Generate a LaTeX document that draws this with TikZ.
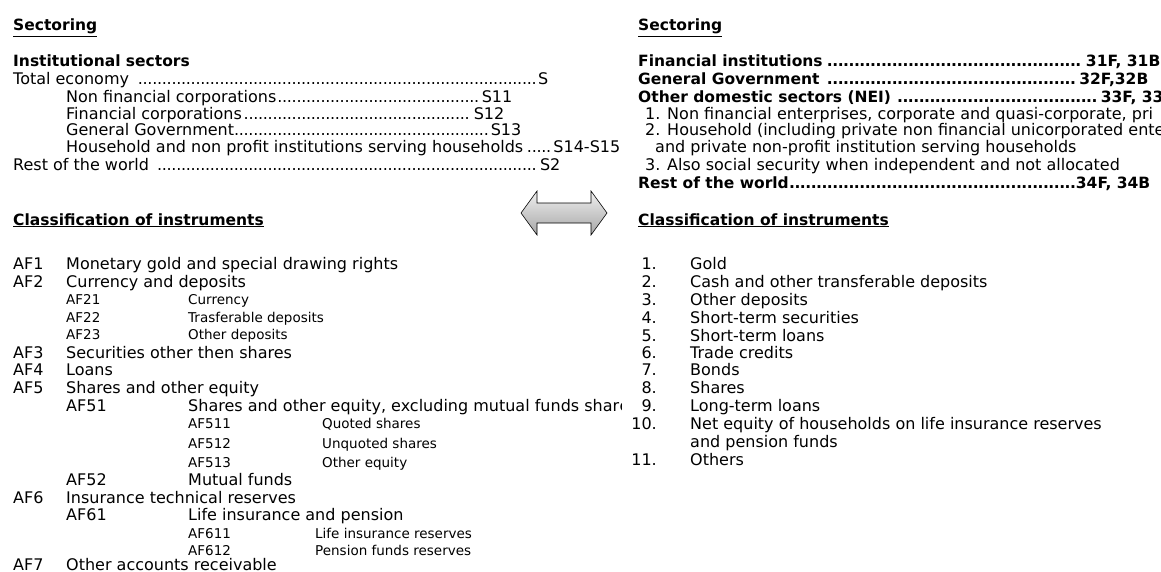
\documentclass[tikz,border=0pt]{standalone}
\usepackage{fontspec}
\setmainfont{DejaVu Sans}
\newcommand\txtA{\fontsize{16}{18}\selectfont}
\newcommand\txtH{\fontsize{15.5}{18}\selectfont\bfseries}
\newcommand\txtB{\fontsize{13.5}{15}\selectfont}
\newcommand\dotsA{\leaders\hbox to 4.8pt{\hss.\hss}\hfill}
\newcommand\dotsB{\leaders\hbox to 5.4pt{\hss.\hss}\hfill}
\tikzset{
  tx/.style={anchor=base west, inner sep=0pt, font=\txtA},
  sm/.style={anchor=base west, inner sep=0pt, font=\txtB},
  hd/.style={anchor=base west, inner sep=0pt, font=\txtH},
  nb/.style={anchor=base east, inner sep=0pt, font=\txtA},
}
\begin{document}
\begin{tikzpicture}[x=1pt,y=-1pt]
\useasboundingbox (0,0) rectangle (1161,572);
% ---------------- left: sectoring
\node[hd] (lsec) at (13,31) {\underline{Sectoring}};
\node[hd] (linst) at (13,67) {Institutional sectors};
\node[tx] (ltot) at (13,85) {\hbox to 535pt{Total economy \dotsA S}};
\node[tx] (lnfc) at (66,103) {\hbox to 446pt{Non financial corporations\dotsA S11}};
\node[tx] (lfc) at (66,120) {\hbox to 438pt{Financial corporations\dotsA S12}};
\node[tx] (lgg) at (66,136) {\hbox to 455pt{General Government\dotsA S13}};
\node[tx] (lhh) at (66,153) {\hbox to 554pt{Household and non profit institutions serving households\dotsA S14-S15}};
\node[tx] (lrw) at (13,171) {\hbox to 547pt{Rest of the world \dotsA S2}};
% ---------------- left: instruments
\node[hd] (lcls) at (13,225) {\underline{Classification of instruments}};
\node[tx] (af1) at (13,269) {AF1};  \node[tx] (af1t) at (66,269) {Monetary gold and special drawing rights};
\node[tx] (af2) at (13,287) {AF2};  \node[tx] (af2t) at (66,287) {Currency and deposits};
\node[sm] (af21) at (66,304) {AF21}; \node[sm] (af21t) at (188,304) {Currency};
\node[sm] (af22) at (66,322) {AF22}; \node[sm] (af22t) at (188,322) {Trasferable deposits};
\node[sm] (af23) at (66,339) {AF23}; \node[sm] (af23t) at (188,339) {Other deposits};
\node[tx] (af3) at (13,358) {AF3};  \node[tx] (af3t) at (66,358) {Securities other then shares};
\node[tx] (af4) at (13,375) {AF4};  \node[tx] (af4t) at (66,375) {Loans};
\node[tx] (af5) at (13,393) {AF5};  \node[tx] (af5t) at (66,393) {Shares and other equity};
\node[tx] (af51) at (66,411) {AF51};
\node[tx] (af51t) at (188,411) {Shares and other equity, excluding mutual funds shar};
\begin{scope}
  \clip (af51t.north east) rectangle ++(2.5,22);
  \node[tx] (af51e) at (af51t.base east) {e};
\end{scope}
\node[sm] (af511) at (188,428) {AF511}; \node[sm] (af511t) at (322,428) {Quoted shares};
\node[sm] (af512) at (188,448) {AF512}; \node[sm] (af512t) at (322,448) {Unquoted shares};
\node[sm] (af513) at (188,467) {AF513}; \node[sm] (af513t) at (322,467) {Other equity};
\node[tx] (af52) at (66,485) {AF52}; \node[tx] (af52t) at (188,485) {Mutual funds};
\node[tx] (af6) at (13,503) {AF6};  \node[tx] (af6t) at (66,503) {Insurance technical reserves};
\node[tx] (af61) at (66,520) {AF61}; \node[tx] (af61t) at (188,520) {Life insurance and pension};
\node[sm] (af611) at (188,538) {AF611}; \node[sm] (af611t) at (315,538) {Life insurance reserves};
\node[sm] (af612) at (188,555) {AF612}; \node[sm] (af612t) at (315,555) {Pension funds reserves};
\node[tx] (af7) at (13,570) {AF7};  \node[tx] (af7t) at (66,570) {Other accounts receivable};
% ---------------- arrow
\shade[draw=black, line width=0.6pt, top color=gray!12, bottom color=gray!70]
  (521,213) -- (537,191) -- (537,203) -- (591,203) -- (591,191) -- (607,213)
  -- (591,235) -- (591,223) -- (537,223) -- (537,235) -- cycle;
% ---------------- right: sectoring
\node[hd] (rsec) at (638,31) {\underline{Sectoring}};
\node[hd] (rfi) at (638,67) {\hbox to 522pt{Financial institutions\dotsB 31F, 31B}};
\node[hd] (rgg) at (638,85) {\hbox to 510pt{General Government \dotsB 32F,32B}};
\node[hd] (rod) at (638,103) {\hbox to 537pt{Other domestic sectors (NEI) \dotsB 33F, 33B}};
\node[tx] (rn1) at (645,120) {1. Non financial enterprises, corporate and quasi-corporate, pri};
\node[tx] (rn2) at (645,136) {2. Household (including private non financial unicorporated ente};
\node[tx] (rn2b) at (655,153) {and private non-profit institution serving households};
\node[tx] (rn3) at (645,171) {3. Also social security when independent and not allocated};
\node[hd] (rrw) at (638,189) {\hbox to 512pt{Rest of the world\dotsB 34F, 34B}};
% ---------------- right: instruments
\node[hd] (rcls) at (638,225) {\underline{Classification of instruments}};
\node[nb] (r1) at (657,269) {1.};  \node[tx] (r1t) at (690,269) {Gold};
\node[nb] (r2) at (657,287) {2.};  \node[tx] (r2t) at (690,287) {Cash and other transferable deposits};
\node[nb] (r3) at (657,305) {3.};  \node[tx] (r3t) at (690,305) {Other deposits};
\node[nb] (r4) at (657,323) {4.};  \node[tx] (r4t) at (690,323) {Short-term securities};
\node[nb] (r5) at (657,341) {5.};  \node[tx] (r5t) at (690,341) {Short-term loans};
\node[nb] (r6) at (657,358) {6.};  \node[tx] (r6t) at (690,358) {Trade credits};
\node[nb] (r7) at (657,375) {7.};  \node[tx] (r7t) at (690,375) {Bonds};
\node[nb] (r8) at (657,393) {8.};  \node[tx] (r8t) at (690,393) {Shares};
\node[nb] (r9) at (657,411) {9.};  \node[tx] (r9t) at (690,411) {Long-term loans};
\node[nb] (r10) at (657,429) {10.}; \node[tx] (r10t) at (690,429) {Net equity of households on life insurance reserves};
\node[tx] (r10b) at (690,447) {and pension funds};
\node[nb] (r11) at (657,465) {11.}; \node[tx] (r11t) at (690,465) {Others};
\end{tikzpicture}
\end{document}
